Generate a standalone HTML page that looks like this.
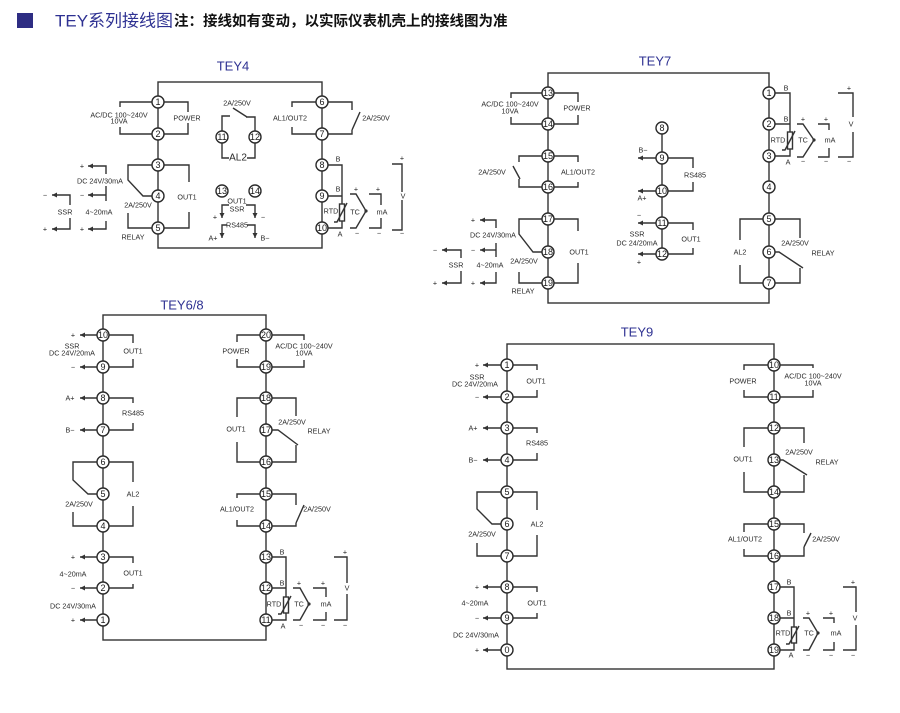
<!DOCTYPE html>
<html><head><meta charset="utf-8">
<style>
html,body{margin:0;padding:0;background:#fff;}
svg{display:block;}
.l{fill:none;stroke:#333;stroke-width:1.4;}
.c{fill:#fff;stroke:#2a2a2a;stroke-width:1.4;}
text{font-family:"Liberation Sans","Noto Sans CJK SC",sans-serif;fill:#2a2a2a;text-anchor:middle;dominant-baseline:central;font-size:7.2px;}
.n{font-size:9px;fill:#1a1a1a;}
.ti{font-size:13px;fill:#2e3192;}
.big{font-size:10px;}
</style></head>
<body>
<svg width="900" height="713" viewBox="0 0 900 713" xmlns="http://www.w3.org/2000/svg">
<defs>
<marker id="a" viewBox="0 0 6 6" refX="6" refY="3" markerWidth="5" markerHeight="5" markerUnits="userSpaceOnUse" orient="auto"><path d="M0,0 L6,3 L0,6z" fill="#333"/></marker>
</defs>

<!-- header -->
<rect x="17" y="13" width="16" height="15" fill="#2e2d83"/>
<text x="55" y="21" style="font-size:17px;fill:#2e3192;text-anchor:start;">TEY系列接线图</text>
<text x="174" y="22" style="font-size:14.5px;fill:#111;text-anchor:start;font-weight:bold;">注：接线如有变动，以实际仪表机壳上的接线图为准</text>

<!-- ================= TEY4 ================= -->
<text class="ti" x="233" y="66">TEY4</text>
<rect class="l" x="158" y="82" width="164" height="166"/>
<path class="l" d="M152,102 H120 V107 M120,127 V134 H152"/>
<text x="119" y="115">AC/DC 100~240V</text>
<text x="119" y="121">10VA</text>
<path class="l" d="M164,102 H188 V112 M188,123 V134 H164"/>
<text x="187" y="118">POWER</text>
<path class="l" d="M152,165 H128 V180 L143,196 H152 M128,213 V228 H152"/>
<text x="138" y="205">2A/250V</text>
<text x="133" y="237">RELAY</text>
<path class="l" d="M164,165 H189 V182 M189,212 V228 H164"/>
<text x="187" y="197">OUT1</text>
<path class="l" d="M106,174 V166 H88" marker-end="url(#a)"/>
<text x="82" y="166">+</text>
<text x="100" y="181">DC 24V/30mA</text>
<path class="l" d="M106,186 V201"/>
<path class="l" d="M106,195 H88" marker-end="url(#a)"/>
<text x="82" y="195">−</text>
<text x="99" y="212">4~20mA</text>
<path class="l" d="M106,221 V229 H88" marker-end="url(#a)"/>
<text x="82" y="229">+</text>
<path class="l" d="M70,205 V195 H52" marker-end="url(#a)"/>
<text x="45" y="195">−</text>
<text x="65" y="212">SSR</text>
<path class="l" d="M70,218 V229 H52" marker-end="url(#a)"/>
<text x="45" y="229">+</text>
<text x="237" y="103">2A/250V</text>
<path class="l" d="M222,131 V116 H230 M233,108 L247,117 M246,117 H255 V131"/>
<path class="l" d="M222,143 V158 H229 M247,158 H255 V143"/>
<text class="big" x="238" y="158">AL2</text>
<text x="237" y="201">OUT1</text>
<text x="237" y="209">SSR</text>
<path class="l" d="M229,205 H222 V218" marker-end="url(#a)"/>
<path class="l" d="M246,205 H255 V218" marker-end="url(#a)"/>
<text x="215" y="217">+</text>
<text x="263" y="217">−</text>
<path class="l" d="M227,225 H222 V238" marker-end="url(#a)"/>
<path class="l" d="M247,225 H255 V238" marker-end="url(#a)"/>
<text x="237" y="225">RS485</text>
<text x="213" y="238">A+</text>
<text x="265" y="238">B−</text>
<path class="l" d="M316,102 H292 V107 M292,127 V134 H316"/>
<text x="290" y="118">AL1/OUT2</text>
<path class="l" d="M328,102 H352 V110 M352,130 L360,112 M328,134 H352 V130"/>
<text x="376" y="118">2A/250V</text>
<path class="l" d="M328,165 H342 V204 M328,196 H342 M328,228 H342 V221"/>
<rect class="l" x="339.5" y="204" width="5" height="17"/>
<path class="l" d="M334,222 H337 L347,203"/>
<text x="338" y="159">B</text>
<text x="338" y="189">B</text>
<text x="340" y="234">A</text>
<text x="331" y="211">RTD</text>
<path class="l" d="M350,194 H356 L366,211 L356,228 H350"/>
<circle cx="366" cy="211" r="1.6" fill="#333"/>
<text x="356" y="189">+</text>
<text x="355" y="212">TC</text>
<text x="357" y="233">−</text>
<path class="l" d="M369,194 H381 V205 M381,218 V228 H369"/>
<text x="378" y="189">+</text>
<text x="382" y="212">mA</text>
<text x="379" y="233">−</text>
<path class="l" d="M392,164 H402 V192 M402,200 V230 H392"/>
<text x="402" y="158">+</text>
<text x="403" y="196">V</text>
<text x="402" y="233">−</text>
<g>
<circle class="c" cx="158" cy="102" r="6"/><text class="n" x="158" y="102">1</text>
<circle class="c" cx="158" cy="134" r="6"/><text class="n" x="158" y="134">2</text>
<circle class="c" cx="158" cy="165" r="6"/><text class="n" x="158" y="165">3</text>
<circle class="c" cx="158" cy="196" r="6"/><text class="n" x="158" y="196">4</text>
<circle class="c" cx="158" cy="228" r="6"/><text class="n" x="158" y="228">5</text>
<circle class="c" cx="322" cy="102" r="6"/><text class="n" x="322" y="102">6</text>
<circle class="c" cx="322" cy="134" r="6"/><text class="n" x="322" y="134">7</text>
<circle class="c" cx="322" cy="165" r="6"/><text class="n" x="322" y="165">8</text>
<circle class="c" cx="322" cy="196" r="6"/><text class="n" x="322" y="196">9</text>
<circle class="c" cx="322" cy="228" r="6"/><text class="n" x="322" y="228">10</text>
<circle class="c" cx="222" cy="137" r="6"/><text class="n" x="222" y="137">11</text>
<circle class="c" cx="255" cy="137" r="6"/><text class="n" x="255" y="137">12</text>
<circle class="c" cx="222" cy="191" r="6"/><text class="n" x="222" y="191">13</text>
<circle class="c" cx="255" cy="191" r="6"/><text class="n" x="255" y="191">14</text>
</g>

<!-- ================= TEY7 ================= -->
<text class="ti" x="655" y="61">TEY7</text>
<rect class="l" x="548" y="73" width="221" height="230"/>
<path class="l" d="M542,93 H511 V98 M511,117 V124 H542"/>
<text x="510" y="104">AC/DC 100~240V</text>
<text x="510" y="111">10VA</text>
<path class="l" d="M554,93 H578 V102 M578,115 V124 H554"/>
<text x="577" y="108">POWER</text>
<path class="l" d="M542,156 H519 V162 M513,166 L520,179 M519,179 V187 H542"/>
<text x="492" y="172">2A/250V</text>
<path class="l" d="M554,156 H578 V162 M578,182 V187 H554"/>
<text x="578" y="172">AL1/OUT2</text>
<path class="l" d="M542,219 H519 V234 L533,252 H542 M519,272 V283 H542"/>
<text x="524" y="261">2A/250V</text>
<text x="523" y="291">RELAY</text>
<path class="l" d="M554,219 H578 V231 M578,263 V283 H554"/>
<text x="579" y="252">OUT1</text>
<path class="l" d="M496,228 V220 H480" marker-end="url(#a)"/>
<text x="473" y="220">+</text>
<text x="493" y="235">DC 24V/30mA</text>
<path class="l" d="M496,243 V257"/>
<path class="l" d="M496,250 H480" marker-end="url(#a)"/>
<text x="473" y="250">−</text>
<text x="490" y="265">4~20mA</text>
<path class="l" d="M496,272 V283 H480" marker-end="url(#a)"/>
<text x="473" y="283">+</text>
<path class="l" d="M461,258 V250 H442" marker-end="url(#a)"/>
<text x="435" y="250">−</text>
<text x="456" y="265">SSR</text>
<path class="l" d="M461,271 V283 H442" marker-end="url(#a)"/>
<text x="435" y="283">+</text>
<path class="l" d="M662,128 V254"/>
<path class="l" d="M656,158 H638" marker-end="url(#a)"/>
<text x="643" y="150">B−</text>
<path class="l" d="M668,158 H693 V168 M693,182 V191 H668"/>
<text x="695" y="175">RS485</text>
<path class="l" d="M656,191 H638" marker-end="url(#a)"/>
<text x="642" y="198">A+</text>
<path class="l" d="M656,223 H638" marker-end="url(#a)"/>
<text x="639" y="215">−</text>
<path class="l" d="M668,223 H693 V230 M693,248 V254 H668"/>
<text x="691" y="239">OUT1</text>
<text x="637" y="234">SSR</text>
<text x="637" y="243">DC 24/20mA</text>
<path class="l" d="M656,254 H638" marker-end="url(#a)"/>
<text x="639" y="262">+</text>
<path class="l" d="M775,93 H790 V132 M775,124 H790 M775,156 H790 V149"/>
<rect class="l" x="787.5" y="132" width="5" height="17"/>
<path class="l" d="M782,150 H785 L795,131"/>
<text x="786" y="88">B</text>
<text x="786" y="119">B</text>
<text x="788" y="162">A</text>
<text x="778" y="140">RTD</text>
<path class="l" d="M797,124 H803 L814,140 L803,157 H797"/>
<circle cx="814" cy="140" r="1.6" fill="#333"/>
<text x="803" y="119">+</text>
<text x="803" y="140">TC</text>
<text x="803" y="161">−</text>
<path class="l" d="M818,124 H829 V130 M829,148 V157 H818"/>
<text x="826" y="119">+</text>
<text x="830" y="140">mA</text>
<text x="826" y="161">−</text>
<path class="l" d="M838,93 H853 V117 M853,132 V157 H838"/>
<text x="849" y="88">+</text>
<text x="851" y="124">V</text>
<text x="849" y="161">−</text>
<path class="l" d="M763,219 H740 V240 M740,265 V283 H763"/>
<text x="740" y="252">AL2</text>
<path class="l" d="M775,219 H800 V238 M775,252 H779 L803,268 M800,268 V283 H775"/>
<text x="795" y="243">2A/250V</text>
<text x="823" y="253">RELAY</text>
<g>
<circle class="c" cx="548" cy="93" r="6"/><text class="n" x="548" y="93">13</text>
<circle class="c" cx="548" cy="124" r="6"/><text class="n" x="548" y="124">14</text>
<circle class="c" cx="548" cy="156" r="6"/><text class="n" x="548" y="156">15</text>
<circle class="c" cx="548" cy="187" r="6"/><text class="n" x="548" y="187">16</text>
<circle class="c" cx="548" cy="219" r="6"/><text class="n" x="548" y="219">17</text>
<circle class="c" cx="548" cy="252" r="6"/><text class="n" x="548" y="252">18</text>
<circle class="c" cx="548" cy="283" r="6"/><text class="n" x="548" y="283">19</text>
<circle class="c" cx="769" cy="93" r="6"/><text class="n" x="769" y="93">1</text>
<circle class="c" cx="769" cy="124" r="6"/><text class="n" x="769" y="124">2</text>
<circle class="c" cx="769" cy="156" r="6"/><text class="n" x="769" y="156">3</text>
<circle class="c" cx="769" cy="187" r="6"/><text class="n" x="769" y="187">4</text>
<circle class="c" cx="769" cy="219" r="6"/><text class="n" x="769" y="219">5</text>
<circle class="c" cx="769" cy="252" r="6"/><text class="n" x="769" y="252">6</text>
<circle class="c" cx="769" cy="283" r="6"/><text class="n" x="769" y="283">7</text>
<circle class="c" cx="662" cy="128" r="6"/><text class="n" x="662" y="128">8</text>
<circle class="c" cx="662" cy="158" r="6"/><text class="n" x="662" y="158">9</text>
<circle class="c" cx="662" cy="191" r="6"/><text class="n" x="662" y="191">10</text>
<circle class="c" cx="662" cy="223" r="6"/><text class="n" x="662" y="223">11</text>
<circle class="c" cx="662" cy="254" r="6"/><text class="n" x="662" y="254">12</text>
</g>

<!-- ================= TEY6/8 ================= -->
<text class="ti" x="182" y="305">TEY6/8</text>
<rect class="l" x="103" y="315" width="163" height="325"/>
<path class="l" d="M97,335 H80" marker-end="url(#a)"/>
<text x="73" y="335">+</text>
<path class="l" d="M109,335 H133 V343 M133,359 V367 H109"/>
<text x="133" y="351">OUT1</text>
<text x="72" y="346">SSR</text>
<text x="72" y="353">DC 24V/20mA</text>
<path class="l" d="M97,367 H80" marker-end="url(#a)"/>
<text x="73" y="367">−</text>
<path class="l" d="M97,398 H80" marker-end="url(#a)"/>
<text x="70" y="398">A+</text>
<path class="l" d="M109,398 H133 V403 M133,423 V430 H109"/>
<text x="133" y="413">RS485</text>
<path class="l" d="M97,430 H80" marker-end="url(#a)"/>
<text x="70" y="430">B−</text>
<path class="l" d="M97,462 H73 V480 L88,494 H97 M73,512 V526 H97"/>
<text x="79" y="504">2A/250V</text>
<path class="l" d="M109,462 H133 V482 M133,506 V526 H109"/>
<text x="133" y="494">AL2</text>
<path class="l" d="M97,557 H80" marker-end="url(#a)"/>
<text x="73" y="557">+</text>
<path class="l" d="M109,557 H133 V563 M133,584 V588 H109"/>
<text x="133" y="573">OUT1</text>
<text x="73" y="574">4~20mA</text>
<path class="l" d="M97,588 H80" marker-end="url(#a)"/>
<text x="73" y="588">−</text>
<text x="73" y="606">DC 24V/30mA</text>
<path class="l" d="M97,620 H80" marker-end="url(#a)"/>
<text x="73" y="620">+</text>
<path class="l" d="M260,335 H237 V342 M237,359 V367 H260"/>
<text x="236" y="351">POWER</text>
<path class="l" d="M272,335 H304 V340 M304,360 V367 H272"/>
<text x="304" y="346">AC/DC 100~240V</text>
<text x="304" y="353">10VA</text>
<path class="l" d="M260,398 H237 V417 M237,442 V462 H260"/>
<text x="236" y="429">OUT1</text>
<path class="l" d="M272,398 H296 V416 M272,430 H278 L298,445 M296,445 V462 H272"/>
<text x="292" y="422">2A/250V</text>
<text x="319" y="431">RELAY</text>
<path class="l" d="M260,494 H237 V498 M237,520 V526 H260"/>
<text x="237" y="509">AL1/OUT2</text>
<path class="l" d="M272,494 H296 V505 M296,523 L304,505 M272,526 H296 V523"/>
<text x="317" y="509">2A/250V</text>
<path class="l" d="M272,557 H286 V597 M272,588 H286 M272,620 H286 V613"/>
<rect class="l" x="283.5" y="597" width="5" height="16"/>
<path class="l" d="M278,614 H281 L291,596"/>
<text x="282" y="552">B</text>
<text x="282" y="583">B</text>
<text x="283" y="626">A</text>
<text x="274" y="604">RTD</text>
<path class="l" d="M293,588 H300 L309,604 L300,620 H293"/>
<circle cx="309" cy="604" r="1.6" fill="#333"/>
<text x="299" y="583">+</text>
<text x="299" y="604">TC</text>
<text x="301" y="625">−</text>
<path class="l" d="M313,588 H326 V597 M326,612 V620 H313"/>
<text x="323" y="583">+</text>
<text x="326" y="604">mA</text>
<text x="323" y="625">−</text>
<path class="l" d="M334,557 H347 V583 M347,594 V620 H334"/>
<text x="345" y="552">+</text>
<text x="347" y="588">V</text>
<text x="345" y="625">−</text>
<g>
<circle class="c" cx="103" cy="335" r="6"/><text class="n" x="103" y="335">10</text>
<circle class="c" cx="103" cy="367" r="6"/><text class="n" x="103" y="367">9</text>
<circle class="c" cx="103" cy="398" r="6"/><text class="n" x="103" y="398">8</text>
<circle class="c" cx="103" cy="430" r="6"/><text class="n" x="103" y="430">7</text>
<circle class="c" cx="103" cy="462" r="6"/><text class="n" x="103" y="462">6</text>
<circle class="c" cx="103" cy="494" r="6"/><text class="n" x="103" y="494">5</text>
<circle class="c" cx="103" cy="526" r="6"/><text class="n" x="103" y="526">4</text>
<circle class="c" cx="103" cy="557" r="6"/><text class="n" x="103" y="557">3</text>
<circle class="c" cx="103" cy="588" r="6"/><text class="n" x="103" y="588">2</text>
<circle class="c" cx="103" cy="620" r="6"/><text class="n" x="103" y="620">1</text>
<circle class="c" cx="266" cy="335" r="6"/><text class="n" x="266" y="335">20</text>
<circle class="c" cx="266" cy="367" r="6"/><text class="n" x="266" y="367">19</text>
<circle class="c" cx="266" cy="398" r="6"/><text class="n" x="266" y="398">18</text>
<circle class="c" cx="266" cy="430" r="6"/><text class="n" x="266" y="430">17</text>
<circle class="c" cx="266" cy="462" r="6"/><text class="n" x="266" y="462">16</text>
<circle class="c" cx="266" cy="494" r="6"/><text class="n" x="266" y="494">15</text>
<circle class="c" cx="266" cy="526" r="6"/><text class="n" x="266" y="526">14</text>
<circle class="c" cx="266" cy="557" r="6"/><text class="n" x="266" y="557">13</text>
<circle class="c" cx="266" cy="588" r="6"/><text class="n" x="266" y="588">12</text>
<circle class="c" cx="266" cy="620" r="6"/><text class="n" x="266" y="620">11</text>
</g>

<!-- ================= TEY9 ================= -->
<text class="ti" x="637" y="332">TEY9</text>
<rect class="l" x="507" y="344" width="267" height="325"/>
<path class="l" d="M501,365 H483" marker-end="url(#a)"/>
<text x="477" y="365">+</text>
<path class="l" d="M513,365 H537 V370 M537,390 V397 H513"/>
<text x="536" y="381">OUT1</text>
<text x="477" y="377">SSR</text>
<text x="475" y="384">DC 24V/20mA</text>
<path class="l" d="M501,397 H483" marker-end="url(#a)"/>
<text x="477" y="397">−</text>
<path class="l" d="M501,428 H483" marker-end="url(#a)"/>
<text x="473" y="428">A+</text>
<path class="l" d="M513,428 H537 V433 M537,453 V460 H513"/>
<text x="537" y="443">RS485</text>
<path class="l" d="M501,460 H483" marker-end="url(#a)"/>
<text x="473" y="460">B−</text>
<path class="l" d="M501,492 H477 V509 L492,524 H501 M477,543 V556 H501"/>
<text x="482" y="534">2A/250V</text>
<path class="l" d="M513,492 H537 V510 M537,535 V556 H513"/>
<text x="537" y="524">AL2</text>
<path class="l" d="M501,587 H483" marker-end="url(#a)"/>
<text x="477" y="587">+</text>
<path class="l" d="M513,587 H537 V592 M537,613 V618 H513"/>
<text x="537" y="603">OUT1</text>
<text x="475" y="603">4~20mA</text>
<path class="l" d="M501,618 H483" marker-end="url(#a)"/>
<text x="477" y="618">−</text>
<text x="476" y="635">DC 24V/30mA</text>
<path class="l" d="M501,650 H483" marker-end="url(#a)"/>
<text x="477" y="650">+</text>
<path class="l" d="M768,365 H744 V370 M744,390 V397 H768"/>
<text x="743" y="381">POWER</text>
<path class="l" d="M780,365 H813 V368 M813,390 V397 H780"/>
<text x="813" y="376">AC/DC 100~240V</text>
<text x="813" y="383">10VA</text>
<path class="l" d="M768,428 H744 V447 M744,472 V492 H768"/>
<text x="743" y="459">OUT1</text>
<path class="l" d="M780,428 H804 V443 M780,460 H783 L807,475 M804,475 V492 H780"/>
<text x="799" y="452">2A/250V</text>
<text x="827" y="462">RELAY</text>
<path class="l" d="M768,524 H744 V532 M744,549 V556 H768"/>
<text x="745" y="539">AL1/OUT2</text>
<path class="l" d="M780,524 H804 V533 M804,547 L811,533 M780,556 H804 V547"/>
<text x="826" y="539">2A/250V</text>
<path class="l" d="M780,587 H794 V627 M780,618 H794 M780,650 H794 V643"/>
<rect class="l" x="791.5" y="627" width="5" height="16"/>
<path class="l" d="M786,644 H789 L799,626"/>
<text x="789" y="582">B</text>
<text x="789" y="613">B</text>
<text x="791" y="655">A</text>
<text x="783" y="633">RTD</text>
<path class="l" d="M803,618 H809 L818,633 L809,650 H803"/>
<circle cx="818" cy="633" r="1.6" fill="#333"/>
<text x="808" y="613">+</text>
<text x="809" y="633">TC</text>
<text x="808" y="655">−</text>
<path class="l" d="M823,618 H834 V623 M834,642 V650 H823"/>
<text x="831" y="613">+</text>
<text x="836" y="633">mA</text>
<text x="831" y="655">−</text>
<path class="l" d="M843,587 H856 V612 M856,625 V650 H843"/>
<text x="853" y="582">+</text>
<text x="855" y="618">V</text>
<text x="853" y="655">−</text>
<g>
<circle class="c" cx="507" cy="365" r="6"/><text class="n" x="507" y="365">1</text>
<circle class="c" cx="507" cy="397" r="6"/><text class="n" x="507" y="397">2</text>
<circle class="c" cx="507" cy="428" r="6"/><text class="n" x="507" y="428">3</text>
<circle class="c" cx="507" cy="460" r="6"/><text class="n" x="507" y="460">4</text>
<circle class="c" cx="507" cy="492" r="6"/><text class="n" x="507" y="492">5</text>
<circle class="c" cx="507" cy="524" r="6"/><text class="n" x="507" y="524">6</text>
<circle class="c" cx="507" cy="556" r="6"/><text class="n" x="507" y="556">7</text>
<circle class="c" cx="507" cy="587" r="6"/><text class="n" x="507" y="587">8</text>
<circle class="c" cx="507" cy="618" r="6"/><text class="n" x="507" y="618">9</text>
<circle class="c" cx="507" cy="650" r="6"/><text class="n" x="507" y="650">0</text>
<circle class="c" cx="774" cy="365" r="6"/><text class="n" x="774" y="365">10</text>
<circle class="c" cx="774" cy="397" r="6"/><text class="n" x="774" y="397">11</text>
<circle class="c" cx="774" cy="428" r="6"/><text class="n" x="774" y="428">12</text>
<circle class="c" cx="774" cy="460" r="6"/><text class="n" x="774" y="460">13</text>
<circle class="c" cx="774" cy="492" r="6"/><text class="n" x="774" y="492">14</text>
<circle class="c" cx="774" cy="524" r="6"/><text class="n" x="774" y="524">15</text>
<circle class="c" cx="774" cy="556" r="6"/><text class="n" x="774" y="556">16</text>
<circle class="c" cx="774" cy="587" r="6"/><text class="n" x="774" y="587">17</text>
<circle class="c" cx="774" cy="618" r="6"/><text class="n" x="774" y="618">18</text>
<circle class="c" cx="774" cy="650" r="6"/><text class="n" x="774" y="650">19</text>
</g>
</svg>
</body></html>
